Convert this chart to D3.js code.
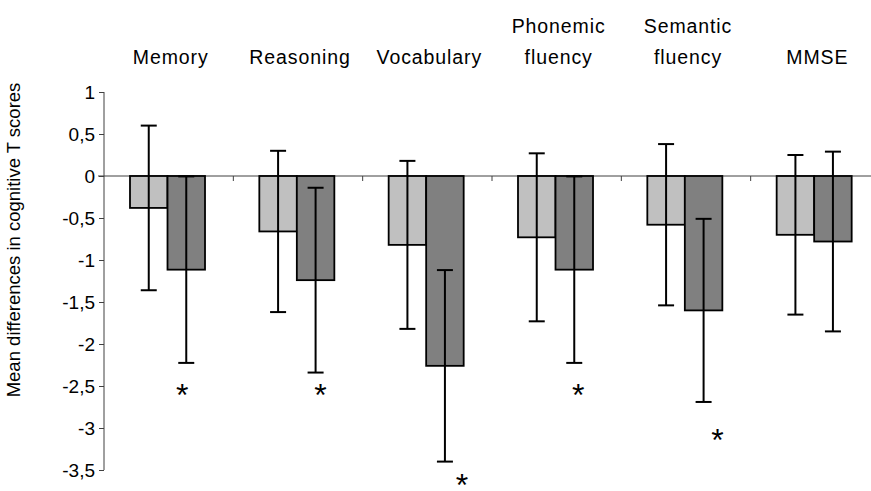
<!DOCTYPE html>
<html>
<head>
<meta charset="utf-8">
<title>Cognitive T scores</title>
<script src="https://cdn.jsdelivr.net/npm/d3@7"></script>
<style>
  body { margin: 0; background: #fff; }
  text { font-family: "Liberation Sans", Arial, sans-serif; fill: #000; }
</style>
</head>
<body>
<div id="chart"></div>
<script>
// data
var categories = ["Memory", "Reasoning", "Vocabulary", "Phonemic fluency", "Semantic fluency", "MMSE"];
var labelLines = [["Memory"], ["Reasoning"], ["Vocabulary"], ["Phonemic", "fluency"], ["Semantic", "fluency"], ["MMSE"]];
var lightMeans = [-0.38, -0.66, -0.82, -0.73, -0.58, -0.70];
var lightErr   = [0.98, 0.96, 1.00, 1.00, 0.96, 0.95];
var darkMeans  = [-1.115, -1.24, -2.26, -1.115, -1.60, -0.78];
var darkErr    = [1.11, 1.10, 1.14, 1.11, 1.09, 1.07];
var yTicks = [1, 0.5, 0, -0.5, -1, -1.5, -2, -2.5, -3, -3.5];
// significance stars: category index and level (in T score units)
var sigCat = [0, 1, 2, 3, 4];
var sigLevel = [-2.52, -2.52, -3.6, -2.52, -3.06];
var sigShift = [-4, 5, 17, 4, 14];

var W = 871, H = 491;
var svg = d3.select("#chart").append("svg")
  .attr("width", W).attr("height", H);

var y = d3.scaleLinear().domain([-3.5, 1]).range([470, 92]);
var x0 = d3.scaleBand().domain(categories).range([104, 880]);
var x1 = d3.scaleBand().domain(["light", "dark"])
  .range([x0.bandwidth() * 0.201, x0.bandwidth() * 0.781]);

// y axis
var yAxis = d3.axisLeft(y).tickValues(yTicks).tickSize(5)
  .tickFormat(function(d){ return String(d).replace(".", ","); });
var gy = svg.append("g").attr("transform", "translate(104,0)").call(yAxis);
gy.attr("font-size", null);
gy.select(".domain").attr("stroke", "#404040").attr("d", "M0," + y(1) + "V" + y(-3.5));
gy.selectAll(".tick line").attr("stroke", "#404040");
gy.selectAll(".tick text").attr("font-size", 19).attr("x", -9)
  .attr("font-family", "Liberation Sans, Arial, sans-serif").attr("fill", "#000");

// zero line with category ticks
var xAxis = d3.axisBottom(x0).tickValues([]).tickSizeOuter(0);
var gx = svg.append("g").attr("transform", "translate(0," + y(0) + ")").call(xAxis);
gx.select(".domain").attr("stroke", "#404040").attr("d", "M98,0H880");
gx.selectAll("line.sep").data(categories.slice(1)).enter().append("line")
  .attr("class", "sep")
  .attr("x1", function(d){ return x0(d); }).attr("x2", function(d){ return x0(d); })
  .attr("y1", 0).attr("y2", 5).attr("stroke", "#404040");

// bars
var rows = categories.map(function(c, i){
  return [
    {cat: c, s: "light", v: lightMeans[i], e: lightErr[i]},
    {cat: c, s: "dark", v: darkMeans[i], e: darkErr[i]}
  ];
});
var flat = d3.merge(rows);
var fill = {light: "#c0c0c0", dark: "#808080"};

svg.selectAll("rect.bar").data(flat).enter().append("rect")
  .attr("class", "bar")
  .attr("x", function(d){ return x0(d.cat) + x1(d.s); })
  .attr("width", x1.bandwidth())
  .attr("y", function(d){ return y(Math.max(0, d.v)); })
  .attr("height", function(d){ return Math.abs(y(d.v) - y(0)); })
  .attr("fill", function(d){ return fill[d.s]; })
  .attr("stroke", "#000").attr("stroke-width", 1.8);

// error bars
var eb = svg.selectAll("g.err").data(flat).enter().append("g").attr("class", "err")
  .attr("transform", function(d){ return "translate(" + (x0(d.cat) + x1(d.s) + x1.bandwidth() / 2) + ",0)"; });
eb.append("line")
  .attr("y1", function(d){ return y(d.v + d.e); })
  .attr("y2", function(d){ return y(d.v - d.e); })
  .attr("stroke", "#000").attr("stroke-width", 2);
eb.selectAll("line.cap").data(function(d){ return [d.v + d.e, d.v - d.e]; }).enter()
  .append("line").attr("class", "cap")
  .attr("x1", -8).attr("x2", 8)
  .attr("y1", function(d){ return y(d); }).attr("y2", function(d){ return y(d); })
  .attr("stroke", "#000").attr("stroke-width", 2);

// category titles
var lab = svg.selectAll("text.cat").data(categories).enter().append("text")
  .attr("class", "cat")
  .attr("font-size", 19.5).attr("letter-spacing", "0.9px")
  .attr("text-anchor", "middle");
lab.each(function(c, i){
  var lines = labelLines[i];
  var t = d3.select(this);
  lines.forEach(function(s, k){
    t.append("tspan")
      .attr("x", x0(c) + x0.bandwidth() / 2 + 2)
      .attr("y", 64 - (lines.length - 1 - k) * 31)
      .text(s);
  });
});

// y label
svg.append("text")
  .attr("transform", "translate(20,240) rotate(-90)")
  .attr("text-anchor", "middle").attr("font-size", 18.5)
  .text("Mean differences in cognitive T scores");

// significance stars
svg.selectAll("text.sig").data(sigCat).enter().append("text")
  .attr("class", "sig")
  .attr("text-anchor", "middle").attr("font-size", 32)
  .attr("x", function(ci, k){ return x0(categories[ci]) + x1("dark") + x1.bandwidth() / 2 + sigShift[k]; })
  .attr("y", function(ci, k){ return y(sigLevel[k]) + 18; })
  .text("*");
</script>
</body>
</html>
